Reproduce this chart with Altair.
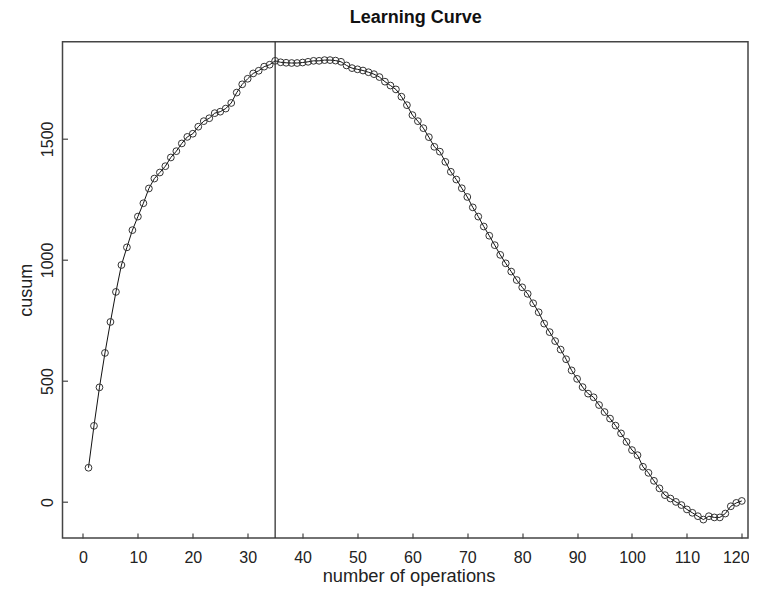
import altair as alt
import pandas as pd

# ---- data ----
ops = list(range(1, 121))
cusum = [
    142, 315, 474, 616, 744, 868, 979, 1052, 1123, 1179,
    1234, 1295, 1336, 1361, 1387, 1423, 1449, 1481, 1508, 1521,
    1550, 1573, 1585, 1606, 1612, 1625, 1648, 1691, 1725, 1748,
    1770, 1781, 1798, 1806, 1822, 1816, 1814, 1813, 1813, 1815,
    1818, 1822, 1822, 1825, 1825, 1823, 1818, 1803, 1792, 1787,
    1782, 1775, 1767, 1755, 1736, 1720, 1704, 1674, 1639, 1598,
    1573, 1544, 1507, 1467, 1447, 1405, 1364, 1332, 1296, 1260,
    1217, 1179, 1138, 1100, 1061, 1021, 986, 952, 917, 887,
    860, 821, 784, 737, 702, 665, 630, 590, 544, 509,
    475, 448, 433, 401, 372, 345, 316, 284, 249, 215,
    194, 146, 121, 88, 57, 29, 15, 1, -12, -30,
    -44, -58, -72, -58, -63, -63, -47, -17, -3, 5,
]
x_ticks = list(range(0, 121, 10))
y_ticks = [0, 500, 1000, 1500]
cut_op = [35]

title_text = "Learning Curve"
x_title = "number of operations"
y_title = "cusum"

W, H = 685.5, 496.3
FONT = "Liberation Sans"

df = pd.DataFrame({"op": ops, "cusum": cusum})
cut_df = pd.DataFrame({"op": cut_op})

xs = alt.Scale(domain=[-3.734, 121.13], nice=False, zero=False)
ys = alt.Scale(domain=[-148, 1901], nice=False, zero=False)

x_axis = alt.Axis(
    values=x_ticks, title=x_title, domain=False, grid=False,
    tickSize=5, tickColor="#444", tickWidth=1.2, offset=-5,
    labelPadding=11, labelFontSize=16, labelFont=FONT, labelColor="#222",
    labelFlush=False, labelBaseline="top",
    labelOffset={"condition": {"test": "datum.value == 120", "value": -6}, "value": 0},
    titleFontSize=18.3, titleFont=FONT, titleFontWeight="normal", titleColor="#222",
    titleX=346, titleY=48.5, titleBaseline="alphabetic", titleAlign="center",
)
y_axis = alt.Axis(
    values=y_ticks, title=y_title, format="d", domain=False, grid=False,
    tickSize=5, tickColor="#444", tickWidth=1.2, offset=-5,
    labelPadding=10, labelFontSize=16, labelFont=FONT, labelColor="#222",
    labelAngle=270, labelAlign="center", labelBaseline="alphabetic", labelFlush=False,
    titleFontSize=18, titleFont=FONT, titleFontWeight="normal", titleColor="#222",
    titleAngle=270, titleX=-36.5, titleY=H / 2, titleBaseline="alphabetic", titleAlign="center",
)

line = alt.Chart(df).mark_line(color="#111", strokeWidth=1).encode(
    x=alt.X("op:Q", scale=xs, axis=x_axis),
    y=alt.Y("cusum:Q", scale=ys, axis=y_axis),
)
pts = alt.Chart(df).mark_point(
    shape="circle", filled=False, size=46, color="#333", strokeWidth=1, opacity=1
).encode(x=alt.X("op:Q", scale=xs), y=alt.Y("cusum:Q", scale=ys))
rule = alt.Chart(cut_df).mark_rule(color="#333", strokeWidth=1.3).encode(
    x=alt.X("op:Q", scale=xs)
)

chart = (
    alt.layer(rule, line, pts)
    .properties(
        width=W, height=H,
        title=alt.TitleParams(
            title_text, font=FONT, fontSize=18, fontWeight="bold", color="#111",
            anchor="middle", dx=10.5, baseline="alphabetic", offset=0,
        ),
        padding={"left": 54.5, "top": 33.7, "right": 1, "bottom": 49},
        autosize=alt.AutoSizeParams(type="none"),
        background="white",
    )
    .configure_view(stroke="#444", strokeWidth=1.5)
)

chart.save("out.html", embed_options={"renderer": "svg", "actions": False})
